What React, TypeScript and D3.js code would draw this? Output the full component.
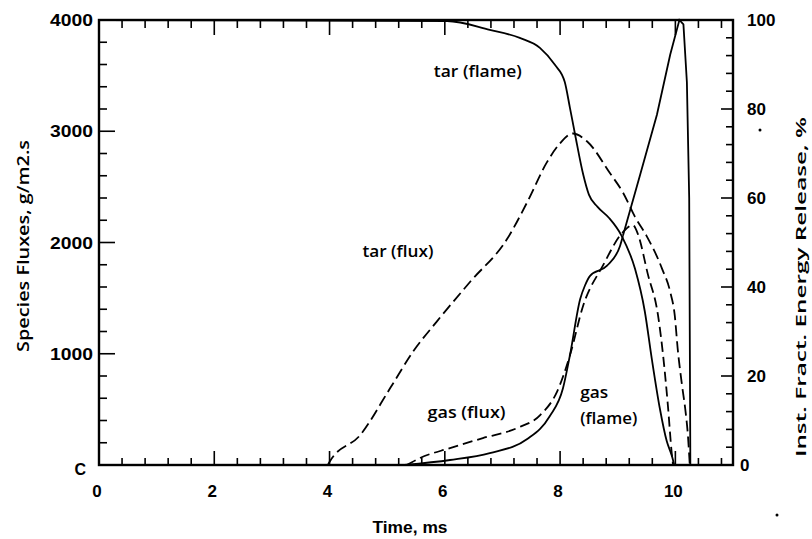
import React from 'react'
import * as d3 from 'd3'

// [time ms, species flux g/m2.s]
const tarFlame: [number, number][] = [
  [0, 4000], [6.04, 3991], [6.78, 3911], [7.3, 3839], [7.65, 3750], [7.91, 3597],
  [8.08, 3445], [8.17, 3213], [8.26, 2971], [8.4, 2613], [8.5, 2430], [8.65, 2320],
  [8.85, 2220], [9.07, 2058], [9.3, 1763], [9.47, 1380], [9.59, 958], [9.73, 510],
  [9.85, 215], [9.94, 80], [9.98, 0],
]
const tarFlux: [number, number][] = [
  [3.97, 0], [4.01, 36], [4.53, 268], [5.05, 689], [5.45, 1020], [5.86, 1289],
  [6.44, 1647], [7.08, 2031], [7.43, 2363], [7.77, 2720], [7.98, 2880], [8.22, 2980],
  [8.47, 2908], [8.87, 2620], [9.09, 2450], [9.3, 2230], [9.5, 2060], [9.77, 1763],
  [9.91, 1557], [9.99, 1342], [10.04, 1047], [10.12, 700], [10.17, 510], [10.22, 250],
  [10.25, 0],
]
const gasFlux: [number, number][] = [
  [5.34, 0], [5.57, 63], [6.09, 152], [6.66, 242], [7.25, 331], [7.65, 447],
  [7.95, 662], [8.17, 984], [8.4, 1432], [8.74, 1790], [9.09, 2094], [9.26, 2157],
  [9.35, 2076], [9.52, 1720], [9.7, 1342], [9.78, 1020], [9.87, 537], [9.94, 90],
  [9.96, 0],
]
const gasFlame: [number, number][] = [
  [5.3, 0], [6.09, 45], [6.78, 107], [7.43, 233], [7.82, 438], [8.05, 689],
  [8.17, 984], [8.35, 1494], [8.43, 1611], [8.52, 1700], [8.81, 1790], [9.04, 1969],
  [9.09, 2058],
]
// [time ms, inst. fract. energy release %]
const energy: [number, number][] = [
  [9.09, 51.5], [9.39, 65.3], [9.68, 78.7], [9.91, 92.2], [10.07, 100],
  [10.14, 99], [10.2, 86], [10.24, 60], [10.26, 0],
]

const xTickLabels = [0, 2, 4, 6, 8, 10]
const yLeftLabels = [1000, 2000, 3000, 4000]
const yRightLabels = [0, 20, 40, 60, 80, 100]

const annotations = [
  { text: 'tar (flame)', x: 5.81, y: 3488, w: 88 },
  { text: 'tar (flux)', x: 4.57, y: 1870, w: 71 },
  { text: 'gas (flux)', x: 5.7, y: 420, w: 78 },
  { text: 'gas', x: 8.35, y: 600, w: 28 },
  { text: '(flame)', x: 8.35, y: 370, w: 57 },
]

const W = 812
const H = 539
const left = 99
const right = 733
const top = 20
const bottom = 465

const tickFont = 'Liberation Sans, Arial, sans-serif'
const textFont = '"Open Sans", "Liberation Sans", sans-serif'

export default function App() {
  const x = d3.scaleLinear().domain([0, 11]).range([left, right])
  const y = d3.scaleLinear().domain([0, 4000]).range([bottom, top])
  const y2 = d3.scaleLinear().domain([0, 100]).range([bottom, top])

  const flux = d3.line<[number, number]>()
    .x(d => x(d[0]))
    .y(d => y(d[1]))
    .curve(d3.curveMonotoneX)
  const energyLine = d3.line<[number, number]>()
    .x(d => x(d[0]))
    .y(d => y2(d[1]))

  const xTicks = d3.range(1, 28).map(i => +(i * 0.4).toFixed(1))
  const yTicks = d3.range(1, 20).map(i => i * 200)
  const y2Ticks = d3.range(1, 25).map(i => i * 4)

  return (
    <svg width={W} height={H} style={{ position: 'absolute', left: 0, top: 0, background: '#fff' }}>
      {/* ticks point inward on all four sides */}
      <g stroke="#000" strokeWidth={1.6}>
        {xTicks.map(t => {
          const major = Math.abs(t / 2 - Math.round(t / 2)) < 1e-6
          return (
            <g key={t}>
              <line x1={x(t)} x2={x(t)} y1={bottom} y2={bottom - (major ? 14 : 7)} />
              <line x1={x(t)} x2={x(t)} y1={top} y2={top + (major ? 15 : 8)} />
            </g>
          )
        })}
        {yTicks.map(v => (
          <line key={v} x1={left} x2={left + (v % 1000 === 0 ? 16 : 8)} y1={y(v)} y2={y(v)} />
        ))}
        {y2Ticks.map(v => (
          <line key={v} x1={right} x2={right - (v % 20 === 0 ? 12 : 7)} y1={y2(v)} y2={y2(v)} />
        ))}
      </g>

      <rect x={left} y={top} width={right - left} height={bottom - top}
        fill="none" stroke="#000" strokeWidth={2.4} />

      {/* curves */}
      <g fill="none" stroke="#000" strokeWidth={1.8}>
        <path d={flux(tarFlame) ?? ''} />
        <path d={flux(gasFlame) ?? ''} />
        <path d={flux(tarFlux) ?? ''} strokeDasharray="11,5" />
        <path d={flux(gasFlux) ?? ''} strokeDasharray="10,5" />
        <path d={energyLine(energy) ?? ''} strokeLinejoin="miter" />
      </g>

      {/* tick labels */}
      <g fontFamily={tickFont} fontWeight="bold" fontSize={17} fill="#000">
        {xTickLabels.map(t => (
          <text key={t} x={x(t) - 2} y={497} textAnchor="middle">{t}</text>
        ))}
        {yLeftLabels.map(v => (
          <text key={v} x={93} y={y(v) + 6} textAnchor="end" textLength={43} lengthAdjust="spacingAndGlyphs">{v}</text>
        ))}
        <text x={86} y={475} textAnchor="end" fontSize={16}>C</text>
        {yRightLabels.map(v => (
          <text key={v} x={v === 0 ? 740 : 747} y={y2(v) + 6} textAnchor="start">{v}</text>
        ))}
        <text x={410} y={533} textAnchor="middle" textLength={75} lengthAdjust="spacingAndGlyphs">Time, ms</text>
      </g>

      {/* axis titles */}
      <g fontFamily={textFont} fontWeight={600} fill="#000">
        <text transform={`translate(29, 246) rotate(-90)`} textAnchor="middle" fontSize={16}
          textLength={212} lengthAdjust="spacingAndGlyphs">Species Fluxes, g/m2.s</text>
        <text transform={`translate(806, 287) rotate(-90)`} textAnchor="middle" fontSize={15}
          textLength={340} lengthAdjust="spacingAndGlyphs">Inst. Fract. Energy Release, %</text>
      </g>

      {/* curve labels */}
      <g fontFamily={textFont} fontWeight={600} fontSize={16} fill="#000">
        {annotations.map(a => (
          <text key={a.text} x={x(a.x)} y={y(a.y)} textLength={a.w} lengthAdjust="spacingAndGlyphs">{a.text}</text>
        ))}
      </g>

      {/* scan specks */}
      <circle cx={760} cy={130} r={1.5} fill="#000" />
      <circle cx={777} cy={515} r={1.5} fill="#000" />
    </svg>
  )
}
